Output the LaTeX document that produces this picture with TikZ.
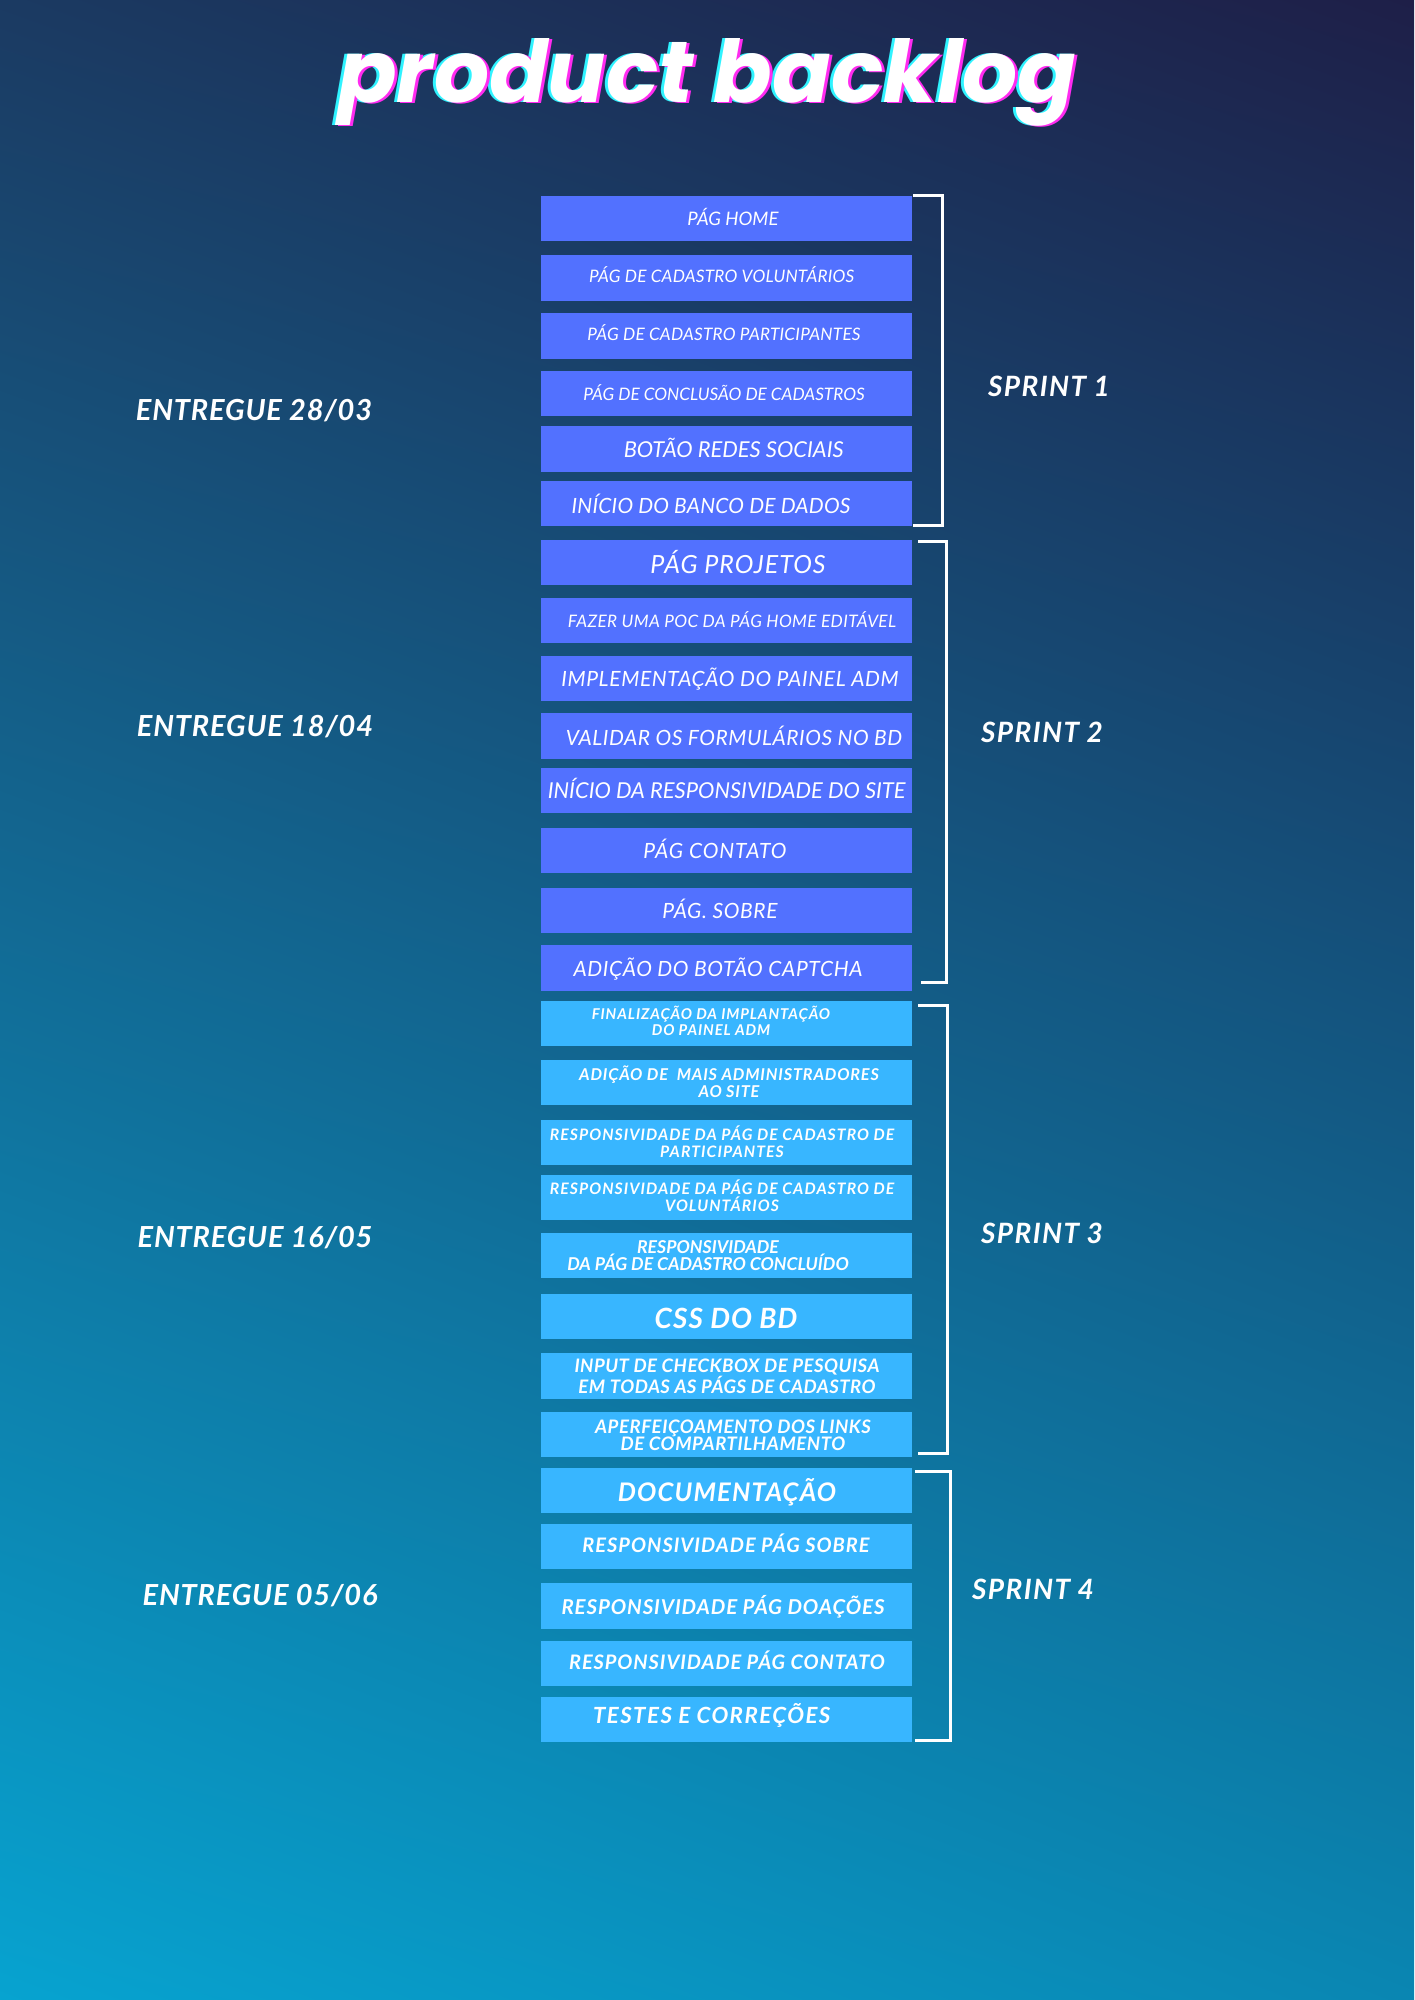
\documentclass[tikz,border=0pt]{standalone}
\usepackage{fontspec}
\usetikzlibrary{shadings}
\setmainfont{Lato}
\newfontfamily\titlefont{Poppins}
\definecolor{bgTL}{HTML}{1B3A62}
\definecolor{bgTR}{HTML}{1E1F48}
\definecolor{bgBL}{HTML}{07A3D0}
\definecolor{bgBR}{HTML}{0A86B2}
\definecolor{boxA}{HTML}{5271FF}
\definecolor{boxB}{HTML}{38B6FF}
\definecolor{glowC}{HTML}{2FF3FF}
\definecolor{glowM}{HTML}{FF2BF0}
\newcommand\fsz[2]{\fontsize{#1}{#2}\selectfont}
\newcommand\lsp[1]{\addfontfeature{LetterSpace=#1}}
\newcommand\titletext{\resizebox{738pt}{64pt}{\titlefont\bfseries\itshape product backlog}}
\begin{document}
\begin{tikzpicture}[x=1pt,y=-1pt,
  bxA/.style={rectangle, fill=boxA, minimum width=371pt, minimum height=45.5pt, inner sep=0pt},
  bxB/.style={rectangle, fill=boxB, minimum width=371pt, minimum height=45.5pt, inner sep=0pt},
  tA/.style={text=white, anchor=base, inner sep=0pt, align=center},
  lbl/.style={text=white, anchor=base, inner sep=0pt, font=\bfseries\itshape\fsz{29}{33}\lsp{2.8}},
  spr/.style={text=white, anchor=base, inner sep=0pt, font=\bfseries\itshape\fsz{28}{32}\lsp{5}},
  ttl/.style={anchor=base west, inner sep=0pt},
  brk/.style={draw=white, line width=3pt, line join=miter}
]
\shade[upper left=bgTL, upper right=bgTR, lower left=bgBL, lower right=bgBR] (0,0) rectangle (1414,2000);
\useasboundingbox (0,0) rectangle (1414,2000);

% title (glitch effect: cyan and magenta copies behind the white text)
\node[ttl, text=glowC] (titc) at (335,102) {\titletext};
\node[ttl, text=glowM] (titm) at (341,103) {\titletext};
\node[ttl, text=white] (tit) at (338,102) {\titletext};

% sprint 1 boxes
\node[bxA] (b1) at (726.5,218.3) {};
\node[bxA] (b2) at (726.5,278.2) {};
\node[bxA] (b3) at (726.5,336.2) {};
\node[bxA] (b4) at (726.5,393.3) {};
\node[bxA] (b5) at (726.5,449) {};
\node[bxA] (b6) at (726.5,503.7) {};
% sprint 2 boxes
\node[bxA] (b7) at (726.5,562.5) {};
\node[bxA] (b8) at (726.5,620.5) {};
\node[bxA] (b9) at (726.5,678.5) {};
\node[bxA] (b10) at (726.5,736) {};
\node[bxA] (b11) at (726.5,790.5) {};
\node[bxA] (b12) at (726.5,850.5) {};
\node[bxA] (b13) at (726.5,910.5) {};
\node[bxA] (b14) at (726.5,968) {};
% sprint 3 boxes
\node[bxB] (b15) at (726.5,1023.5) {};
\node[bxB] (b16) at (726.5,1082.5) {};
\node[bxB] (b17) at (726.5,1142.5) {};
\node[bxB] (b18) at (726.5,1197.5) {};
\node[bxB] (b19) at (726.5,1255.5) {};
\node[bxB] (b20) at (726.5,1316.5) {};
\node[bxB] (b21) at (726.5,1376) {};
\node[bxB] (b22) at (726.5,1434.5) {};
% sprint 4 boxes
\node[bxB] (b23) at (726.5,1490.5) {};
\node[bxB] (b24) at (726.5,1546.5) {};
\node[bxB] (b25) at (726.5,1606) {};
\node[bxB] (b26) at (726.5,1663.5) {};
\node[bxB] (b27) at (726.5,1719.5) {};

% texts sprint 1
\node[tA, font=\itshape\fsz{18.6}{21}] (t1) at (733,225) {PÁG HOME};
\node[tA, font=\itshape\fsz{17.2}{20}\lsp{1.3}] (t2) at (721.7,282.3) {PÁG DE CADASTRO VOLUNTÁRIOS};
\node[tA, font=\itshape\fsz{17.2}{20}\lsp{1.3}] (t3) at (724,340) {PÁG DE CADASTRO PARTICIPANTES};
\node[tA, font=\itshape\fsz{17.2}{20}] (t4) at (724,400) {PÁG DE CONCLUSÃO DE CADASTROS};
\node[tA, font=\itshape\fsz{21.9}{24}] (t5) at (733.7,457.3) {BOTÃO REDES SOCIAIS};
\node[tA, font=\itshape\fsz{21}{24}\lsp{1}] (t6) at (711,513.3) {INÍCIO DO BANCO DE DADOS};
% texts sprint 2
\node[tA, font=\itshape\fsz{25}{28}\lsp{4}] (t7) at (738,573.3) {PÁG PROJETOS};
\node[tA, font=\itshape\fsz{17.2}{20}\lsp{2.2}] (t8) at (732,627.3) {FAZER UMA POC DA PÁG HOME EDITÁVEL};
\node[tA, font=\itshape\fsz{21}{24}\lsp{3}] (t9) at (730,686.7) {IMPLEMENTAÇÃO DO PAINEL ADM};
\node[tA, font=\itshape\fsz{21}{24}\lsp{2.6}] (t10) at (734,745) {VALIDAR OS FORMULÁRIOS NO BD};
\node[tA, font=\itshape\fsz{21.9}{24}] (t11) at (726.7,798.3) {INÍCIO DA RESPONSIVIDADE DO SITE};
\node[tA, font=\itshape\fsz{21}{24}\lsp{4.4}] (t12) at (715,858.3) {PÁG CONTATO};
\node[tA, font=\itshape\fsz{21}{24}\lsp{3}] (t13) at (720,918.3) {PÁG. SOBRE};
\node[tA, font=\itshape\fsz{21}{24}\lsp{3}] (t14) at (718,976) {ADIÇÃO DO BOTÃO CAPTCHA};
% texts sprint 3 (base anchor = baseline of last line)
\node[tA, font=\bfseries\itshape\fsz{14.9}{16}\lsp{6}] (t15) at (711,1035) {FINALIZAÇÃO DA IMPLANTAÇÃO\\DO PAINEL ADM};
\node[tA, font=\bfseries\itshape\fsz{16.3}{16.7}\lsp{5}] (t16) at (729,1097.3) {ADIÇÃO DE\ \ MAIS ADMINISTRADORES\\AO SITE};
\node[tA, font=\bfseries\itshape\fsz{15.8}{16.7}\lsp{6.7}] (t17) at (722,1157.3) {RESPONSIVIDADE DA PÁG DE CADASTRO DE\\PARTICIPANTES};
\node[tA, font=\bfseries\itshape\fsz{15.8}{16.7}\lsp{6.7}] (t18) at (722,1211.3) {RESPONSIVIDADE DA PÁG DE CADASTRO DE\\VOLUNTÁRIOS};
\node[tA, font=\bfseries\itshape\fsz{17.7}{17.4}] (t19) at (708,1270.7) {RESPONSIVIDADE\\DA PÁG DE CADASTRO CONCLUÍDO};
\node[tA, font=\bfseries\itshape\fsz{27.9}{30}\lsp{4}] (t20) at (726,1328.3) {CSS DO BD};
\node[tA, font=\bfseries\itshape\fsz{18.6}{17.3}\lsp{2.5}] (t21) at (727,1393.5) {INPUT DE CHECKBOX DE PESQUISA\\EM TODAS AS PÁGS DE CADASTRO};
\node[tA, font=\bfseries\itshape\fsz{18.6}{17.4}\lsp{3}] (t22) at (733,1450.7) {APERFEIÇOAMENTO DOS LINKS\\DE COMPARTILHAMENTO};
% texts sprint 4
\node[tA, font=\bfseries\itshape\fsz{25.6}{28}\lsp{4.6}] (t23) at (727,1501.7) {DOCUMENTAÇÃO};
\node[tA, font=\bfseries\itshape\fsz{20}{22}\lsp{5}] (t24) at (726,1552.7) {RESPONSIVIDADE PÁG SOBRE};
\node[tA, font=\bfseries\itshape\fsz{20.5}{22}\lsp{4.3}] (t25) at (723,1614) {RESPONSIVIDADE PÁG DOAÇÕES};
\node[tA, font=\bfseries\itshape\fsz{20}{22}\lsp{4.6}] (t26) at (727,1669.3) {RESPONSIVIDADE PÁG CONTATO};
\node[tA, font=\bfseries\itshape\fsz{22.3}{24}\lsp{6.4}] (t27) at (711.7,1723.3) {TESTES E CORREÇÕES};

% brackets
\coordinate (k1a) at (913,195);  \coordinate (k1b) at (942,195);  \coordinate (k1c) at (942,525);  \coordinate (k1d) at (913,525);
\coordinate (k2a) at (918,541);  \coordinate (k2b) at (946,541);  \coordinate (k2c) at (946,982);  \coordinate (k2d) at (921,982);
\coordinate (k3a) at (918,1005); \coordinate (k3b) at (947,1005); \coordinate (k3c) at (947,1453); \coordinate (k3d) at (918,1453);
\coordinate (k4a) at (915,1471); \coordinate (k4b) at (950,1471); \coordinate (k4c) at (950,1740); \coordinate (k4d) at (915,1740);
\draw[brk] (k1a) -- (k1b) -- (k1c) -- (k1d);
\draw[brk] (k2a) -- (k2b) -- (k2c) -- (k2d);
\draw[brk] (k3a) -- (k3b) -- (k3c) -- (k3d);
\draw[brk] (k4a) -- (k4b) -- (k4c) -- (k4d);

% labels
\node[lbl] (e1) at (254,420) {ENTREGUE 28/03};
\node[lbl] (e2) at (255,736) {ENTREGUE 18/04};
\node[lbl] (e3) at (255,1247) {ENTREGUE 16/05};
\node[lbl] (e4) at (260,1605) {ENTREGUE 05/06};
\node[spr] (s1) at (1049,396.7) {SPRINT 1};
\node[spr] (s2) at (1042,742) {SPRINT 2};
\node[spr] (s3) at (1042,1243) {SPRINT 3};
\node[spr] (s4) at (1033,1599) {SPRINT 4};
\end{tikzpicture}
\end{document}
